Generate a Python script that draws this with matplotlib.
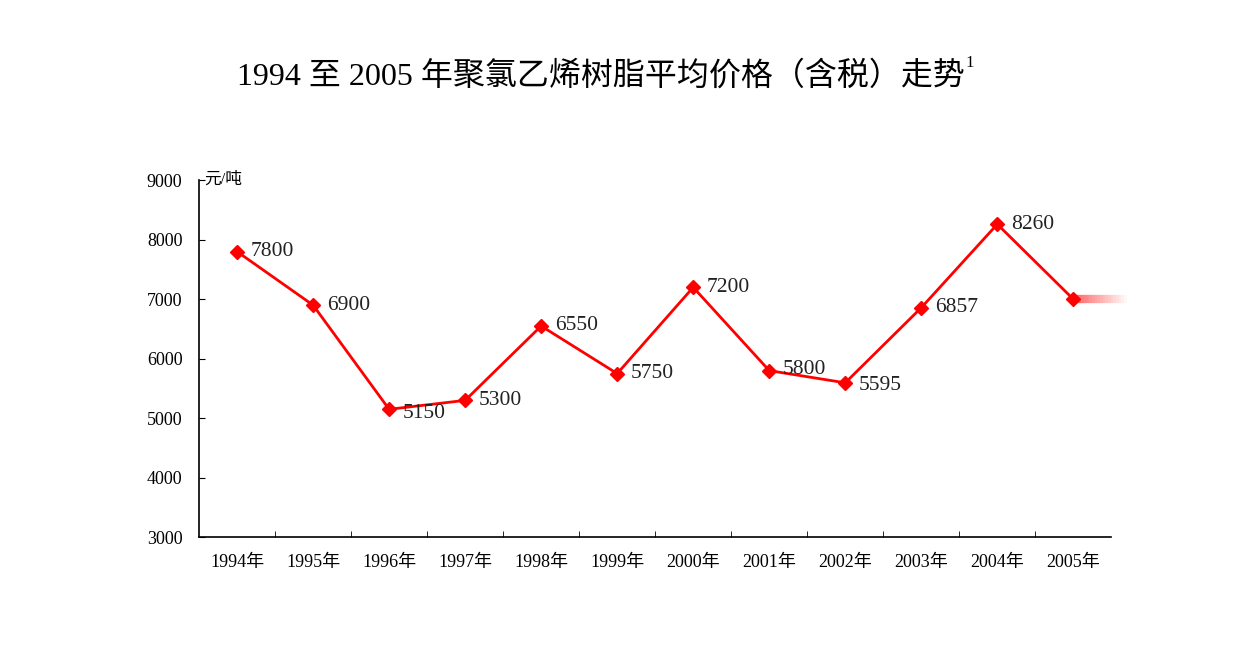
import numpy as np
import matplotlib.pyplot as plt

plt.rcParams['font.family'] = ['Liberation Serif', 'Noto Sans CJK SC']

years = ['1994年', '1995年', '1996年', '1997年', '1998年', '1999年',
         '2000年', '2001年', '2002年', '2003年', '2004年', '2005年']
prices = [7800, 6900, 5150, 5300, 6550, 5750, 7200, 5800, 5595, 6857, 8260, 7000]
labels = ['7800', '6900', '5150', '5300', '6550', '5750',
          '7200', '5800', '5595', '6857', '8260', '']

fig = plt.figure(figsize=(12.6, 6.6), dpi=100)
ax = fig.add_axes([0.158, 0.186, 0.724, 0.541])

x = np.arange(len(years))
ax.plot(x, prices, color='#ff0000', lw=2, marker='D', ms=7, zorder=3)

# faded tail after the last point
n = 20
for i in range(n):
    x0 = x[-1] + 0.7 * i / n
    x1 = x[-1] + 0.7 * (i + 1) / n
    ax.plot([x0, x1], [prices[-1], prices[-1]], color='#ff0000',
            lw=6, alpha=0.6 * (1 - i / n), solid_capstyle='butt',
            zorder=2, clip_on=False)

offsets = {2: (10, -3), 7: (10, 1), 8: (10, -2)}
for i, (v, t) in enumerate(zip(prices, labels)):
    if not t:
        continue
    dx, dy = offsets.get(i, (10, 0))
    ax.annotate(t, (x[i], v), xytext=(dx, dy), textcoords='offset points',
                ha='left', va='center', fontsize=15.5, color='#222222')

ax.set_xlim(-0.5, len(years) - 0.5)
ax.set_ylim(3000, 9000)
ax.set_yticks(range(3000, 9001, 1000))
ax.set_xticks(x)
ax.set_xticklabels(years, fontsize=13)
ax.set_xticks(np.arange(0.5, len(years) - 0.5, 1), minor=True)
ax.tick_params(axis='x', which='major', length=0, pad=12)
ax.tick_params(axis='x', which='minor', direction='in', length=4)
ax.tick_params(axis='y', direction='in', length=4, labelsize=13, pad=12)
for s in ['top', 'right']:
    ax.spines[s].set_visible(False)
ax.spines['left'].set_linewidth(1.2)
ax.spines['bottom'].set_linewidth(1.2)

ax.text(0.006, 1.0, '元/吨', transform=ax.transAxes, fontsize=12,
        ha='left', va='center')

fig.text(0.477, 0.885, '1994 至 2005 年聚氯乙烯树脂平均价格（含税）走势',
         ha='center', va='center', fontsize=23)
fig.text(0.766, 0.905, '1', ha='left', va='center', fontsize=12)

fig.savefig('out.png', dpi=100)
